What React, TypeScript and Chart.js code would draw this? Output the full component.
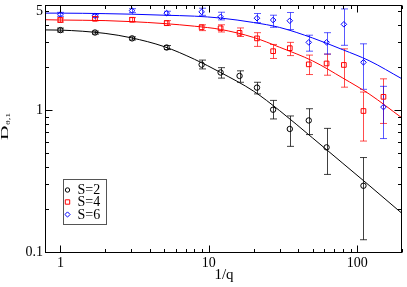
import React, { useEffect, useRef } from "react";
import { Chart, registerables } from "chart.js";

Chart.register(...registerables);

// ---- data ----
const fitX = [0.8, 1, 2, 3, 5, 8, 12, 20, 30, 50, 80, 120, 200];
const fitS2 = [3.67, 3.66, 3.47, 3.23, 2.8, 2.28, 1.84, 1.36, 0.99, 0.636, 0.421, 0.295, 0.187];
const fitS4 = [4.33, 4.31, 4.27, 4.2, 4.07, 3.9, 3.7, 3.25, 2.77, 2.22, 1.68, 1.3, 0.88];
const fitS6 = [4.82, 4.82, 4.78, 4.74, 4.66, 4.59, 4.45, 4.14, 3.82, 3.22, 2.66, 2.23, 1.66];

const s2X = [1, 1.71, 3.04, 5.2, 8.94, 12.0, 16.1, 21.1, 27.1, 35.1, 47.1, 62.1, 110];
const s2Y = [3.66, 3.52, 3.2, 2.76, 2.09, 1.84, 1.74, 1.44, 1.006, 0.736, 0.845, 0.546, 0.293];
const s2Hi = [3.78, 3.6, 3.28, 2.85, 2.25, 1.99, 1.89, 1.57, 1.17, 0.909, 1.022, 0.743, 0.463];
const s2Lo = [3.55, 3.43, 3.12, 2.67, 1.95, 1.68, 1.57, 1.3, 0.866, 0.555, 0.672, 0.352, 0.122];

const s4X = [1, 1.71, 3.04, 5.2, 8.94, 12.0, 16.1, 21.1, 27.1, 35.1, 47.1, 62.1, 81.2, 110, 150];
const s4Y = [4.31, 4.4, 4.33, 4.1, 3.83, 3.77, 3.5, 3.2, 2.6, 2.73, 2.1, 2.13, 2.08, 0.985, 1.24];
const s4Hi = [4.46, 4.55, 4.48, 4.27, 3.99, 3.99, 3.79, 3.51, 2.9, 3.0, 2.44, 2.48, 2.7, 1.34, 1.66];
const s4Lo = [4.17, 4.26, 4.19, 3.94, 3.63, 3.55, 3.3, 2.81, 2.31, 2.42, 1.78, 1.76, 1.45, 0.605, 0.805];

const s6X = [1, 1.71, 3.04, 5.2, 8.94, 12.0, 21.1, 27.1, 35.1, 47.1, 62.1, 81.2, 110, 150];
const s6Y = [4.73, 4.62, 5.02, 4.82, 4.92, 4.54, 4.44, 4.31, 4.26, 3.0, 3.0, 4.02, 2.17, 1.05];
const s6Hi = [4.88, 4.73, 5.18, 4.97, 5.22, 4.89, 4.79, 4.66, 4.87, 3.37, 3.51, 5.16, 2.93, 1.47];
const s6Lo = [4.58, 4.51, 4.86, 4.67, 4.65, 4.32, 4.13, 3.83, 3.69, 2.6, 2.48, 2.86, 1.4, 0.63];

const seriesLabels = ["S=2", "S=4", "S=6"];
const xTicks = [1, 2, 3, 4, 5, 6, 7, 8, 9, 10, 20, 30, 40, 50, 60, 70, 80, 90, 100, 200];
const yTicks = [0.1, 0.2, 0.3, 0.4, 0.5, 0.6, 0.7, 0.8, 0.9, 1, 2, 3, 4, 5];
const xLabeled = [1, 10, 100];
const yLabeled = [0.1, 1, 5];

const COLORS = ["#000000", "#ff0000", "#0000ff"];
const ERR_COLORS = ["rgba(0,0,0,0.75)", "rgba(255,0,0,0.7)", "rgba(0,0,255,0.65)"];
const SERIF = "'Liberation Serif', 'DejaVu Serif', serif";

const pts = (xs: number[], ys: number[]) => xs.map((x, i) => ({ x, y: ys[i] }));
const isMajor = (v: number) => Math.abs(Math.log10(v) - Math.round(Math.log10(v))) < 1e-9;

export default function App() {
  const ref = useRef<HTMLCanvasElement>(null);

  useEffect(() => {
    document.body.style.margin = "0";
    const canvas = ref.current!;
    const errSets = [
      { xs: s2X, hi: s2Hi, lo: s2Lo },
      { xs: s4X, hi: s4Hi, lo: s4Lo },
      { xs: s6X, hi: s6Hi, lo: s6Lo },
    ];

    const errorBars = {
      id: "errorBars",
      beforeDatasetsDraw(chart: any) {
        const { ctx, chartArea: a, scales } = chart;
        const xs = scales.x, ys = scales.y;
        ctx.save();
        ctx.beginPath();
        ctx.rect(a.left, a.top, a.right - a.left, a.bottom - a.top);
        ctx.clip();
        ctx.lineWidth = 1;
        errSets.forEach((s, k) => {
          ctx.strokeStyle = ERR_COLORS[k];
          s.xs.forEach((xv, i) => {
            const px = Math.round(xs.getPixelForValue(xv)) + 0.5;
            const t = ys.getPixelForValue(s.hi[i]);
            const b = ys.getPixelForValue(s.lo[i]);
            ctx.beginPath();
            ctx.moveTo(px, t);
            ctx.lineTo(px, b);
            ctx.moveTo(px - 3.5, t);
            ctx.lineTo(px + 3.5, t);
            ctx.moveTo(px - 3.5, b);
            ctx.lineTo(px + 3.5, b);
            ctx.stroke();
          });
        });
        ctx.restore();
      },
    };

    const frame = {
      id: "frameTicks",
      afterDraw(chart: any) {
        const { ctx, chartArea: a, scales } = chart;
        const L = Math.round(a.left) - 0.5, R = Math.round(a.right) - 0.5;
        const T = Math.round(a.top) + 0.5, B = Math.round(a.bottom) + 0.5;
        ctx.save();
        ctx.strokeStyle = "#000";
        ctx.lineWidth = 1;
        ctx.strokeRect(L, T, R - L, B - T);
        ctx.beginPath();
        xTicks.forEach((v) => {
          const p = Math.round(scales.x.getPixelForValue(v)) + 0.5;
          const len = isMajor(v) ? 7 : 3.5;
          ctx.moveTo(p, B);
          ctx.lineTo(p, B - len);
          ctx.moveTo(p, T);
          ctx.lineTo(p, T + len);
        });
        yTicks.forEach((v) => {
          const p = Math.round(scales.y.getPixelForValue(v)) + 0.5;
          const len = isMajor(v) ? 7 : 3.5;
          ctx.moveTo(L, p);
          ctx.lineTo(L + len, p);
          ctx.moveTo(R, p);
          ctx.lineTo(R - len, p);
        });
        ctx.stroke();

        // y-axis title D_{θ,1}
        ctx.fillStyle = "#000";
        ctx.save();
        ctx.translate(8, 140);
        ctx.rotate(-Math.PI / 2);
        ctx.scale(1, 0.54);
        ctx.textBaseline = "alphabetic";
        ctx.textAlign = "left";
        ctx.font = `20px ${SERIF}`;
        ctx.fillText("D", 0, 0);
        const dw = ctx.measureText("D").width;
        ctx.font = `10px ${SERIF}`;
        ctx.fillText("θ,1", dw + 0.5, 3);
        ctx.restore();

        // legend
        const bx = 63.5, by = 179.5, bw = 43, bh = 45;
        ctx.fillStyle = "#fff";
        ctx.fillRect(bx, by, bw, bh);
        ctx.strokeStyle = "#555";
        ctx.strokeRect(bx, by, bw, bh);
        const rows = [190, 202, 214.5];
        ctx.font = `14px ${SERIF}`;
        ctx.textBaseline = "middle";
        rows.forEach((ry, k) => {
          const mx = 67.5;
          ctx.strokeStyle = COLORS[k];
          ctx.beginPath();
          if (k === 0) ctx.arc(mx, ry, 2.2, 0, Math.PI * 2);
          else if (k === 1) ctx.rect(mx - 2.2, ry - 2.2, 4.4, 4.4);
          else {
            ctx.moveTo(mx - 2.6, ry);
            ctx.lineTo(mx, ry - 2.6);
            ctx.lineTo(mx + 2.6, ry);
            ctx.lineTo(mx, ry + 2.6);
            ctx.closePath();
          }
          ctx.stroke();
          ctx.fillStyle = "#000";
          ctx.fillText(seriesLabels[k], 77.5, ry + 0.5);
        });
        ctx.restore();
      },
    };

    const curve = (data: any, color: string) => ({
      data,
      showLine: true,
      borderColor: color,
      borderWidth: 1,
      pointRadius: 0,
      cubicInterpolationMode: "monotone",
      order: 3,
    });
    const marks = (data: any, color: string, style: string, r: number) => ({
      data,
      showLine: false,
      borderColor: color,
      backgroundColor: "rgba(0,0,0,0)",
      borderWidth: 1,
      pointStyle: style,
      pointRadius: r,
      order: 1,
    });

    const noPad = (s: any) => {
      s.paddingTop = 0;
      s.paddingBottom = 0;
      s.paddingLeft = 0;
      s.paddingRight = 0;
    };

    const chart = new Chart(canvas, {
      type: "scatter",
      data: {
        datasets: [
          curve(pts(fitX, fitS2), COLORS[0]),
          curve(pts(fitX, fitS4), COLORS[1]),
          curve(pts(fitX, fitS6), COLORS[2]),
          marks(pts(s2X, s2Y), COLORS[0], "circle", 2.7),
          marks(pts(s4X, s4Y), COLORS[1], "rect", 3.3),
          marks(pts(s6X, s6Y), COLORS[2], "rectRot", 2.8),
        ] as any,
      },
      options: {
        animation: false,
        responsive: false,
        layout: { padding: { top: 1, right: 1, left: 0, bottom: 0 } },
        plugins: { legend: { display: false }, tooltip: { enabled: false } },
        scales: {
          x: {
            type: "logarithmic",
            min: 0.8,
            max: 200,
            grid: { display: false, drawTicks: false },
            border: { display: false },
            afterBuildTicks: (s: any) => {
              s.ticks = xTicks.map((v) => ({ value: v }));
            },
            afterFit: (s: any) => {
              s.height = 35;
              noPad(s);
            },
            ticks: {
              autoSkip: false,
              maxRotation: 0,
              padding: 3,
              color: "#000",
              font: { family: SERIF, size: 14 },
              callback: (v: any) => (xLabeled.includes(Number(v)) ? String(v) : ""),
            },
            title: {
              display: true,
              text: "1/q",
              color: "#000",
              font: { family: SERIF, size: 15 },
              padding: { top: 0, bottom: 3 },
            },
          },
          y: {
            type: "logarithmic",
            min: 0.1,
            max: 5.5,
            grid: { display: false, drawTicks: false },
            border: { display: false },
            afterBuildTicks: (s: any) => {
              s.ticks = yTicks.map((v) => ({ value: v }));
            },
            afterFit: (s: any) => {
              s.width = 46;
              noPad(s);
            },
            ticks: {
              autoSkip: false,
              padding: 3,
              color: "#000",
              font: { family: SERIF, size: 14 },
              callback: (v: any) => (yLabeled.includes(Number(v)) ? String(v) : ""),
            },
          },
        },
      },
      plugins: [errorBars, frame],
    });
    return () => chart.destroy();
  }, []);

  return (
    <div style={{ width: 407, height: 287 }}>
      <canvas ref={ref} width={407} height={287} style={{ display: "block" }} />
    </div>
  );
}
